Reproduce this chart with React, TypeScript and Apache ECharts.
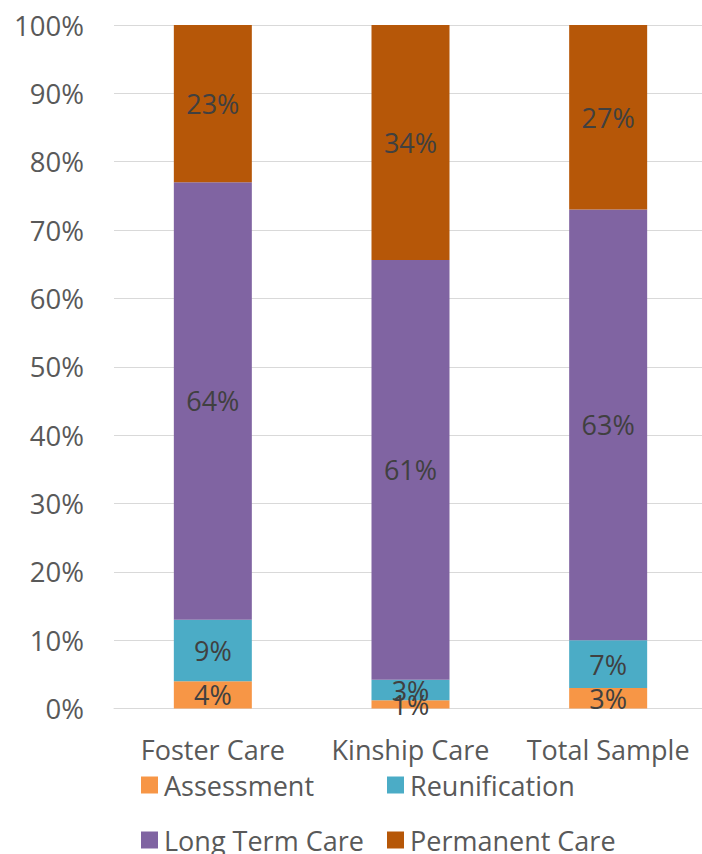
import React, { useEffect, useRef } from "react";
import * as echarts from "echarts";

const categories = ["Foster Care", "Kinship Care", "Total Sample"];
const seriesNames = ["Assessment", "Reunification", "Long Term Care", "Permanent Care"];
const assessment = [4, 1.2, 3];
const reunification = [9, 3, 7];
const longTermCare = [64, 61.4, 63];
const permanentCare = [23, 34.4, 27];
const yTicks = [0, 10, 20, 30, 40, 50, 60, 70, 80, 90, 100];

const colors = ["#F79646", "#4BACC6", "#8064A2", "#B65708"];
const FONT = "'Open Sans', 'Noto Sans', sans-serif";

export default function App() {
  const ref = useRef<HTMLDivElement>(null);
  useEffect(() => {
    document.body.style.margin = "0";
    if (!ref.current) return;
    const chart = echarts.init(ref.current, null, { renderer: "svg" });
    const values = [assessment, reunification, longTermCare, permanentCare];
    const legendPos = [
      { left: 141, top: 768 },
      { left: 387, top: 768 },
      { left: 141, top: 823 },
      { left: 387, top: 823 },
    ];
    chart.setOption({
      animation: false,
      textStyle: { fontFamily: FONT },
      grid: { left: 114, width: 593, top: 25, bottom: 145.5, containLabel: false, outerBoundsMode: "none" },
      legend: seriesNames.map((n, i) => ({
        data: [n],
        left: legendPos[i].left,
        top: legendPos[i].top,
        padding: 0,
        icon: "rect",
        itemWidth: 17,
        itemHeight: 17,
        itemGap: 10,
        selectedMode: false,
        textStyle: { fontSize: 27, color: "#595959", fontFamily: FONT, lineHeight: 34, padding: [0, 0, 0, 1] },
      })),
      xAxis: {
        type: "category",
        data: categories,
        axisTick: { show: false },
        axisLine: { show: true, lineStyle: { color: "#D9D9D9", width: 1 } },
        axisLabel: { interval: 0, fontSize: 27, color: "#595959", margin: 24, lineHeight: 34, fontFamily: FONT },
      },
      yAxis: {
        type: "value",
        min: yTicks[0],
        max: yTicks[yTicks.length - 1],
        interval: 10,
        axisLine: { show: false },
        axisTick: { show: false },
        splitLine: { lineStyle: { color: "#D9D9D9", width: 1 } },
        axisLabel: { fontSize: 27.5, color: "#595959", margin: 30, formatter: "{value}%", fontFamily: FONT },
      },
      series: seriesNames.map((n, i) => ({
        name: n,
        type: "bar",
        stack: "total",
        barWidth: 78,
        data: values[i],
        itemStyle: { color: colors[i] },
        label: {
          show: true,
          position: "inside",
          fontSize: 27,
          color: "#404040",
          fontFamily: FONT,
          formatter: (p: any) => Math.round(p.value) + "%",
        },
      })),
    });
    return () => chart.dispose();
  }, []);
  return <div ref={ref} style={{ width: 702, height: 854 }} />;
}
